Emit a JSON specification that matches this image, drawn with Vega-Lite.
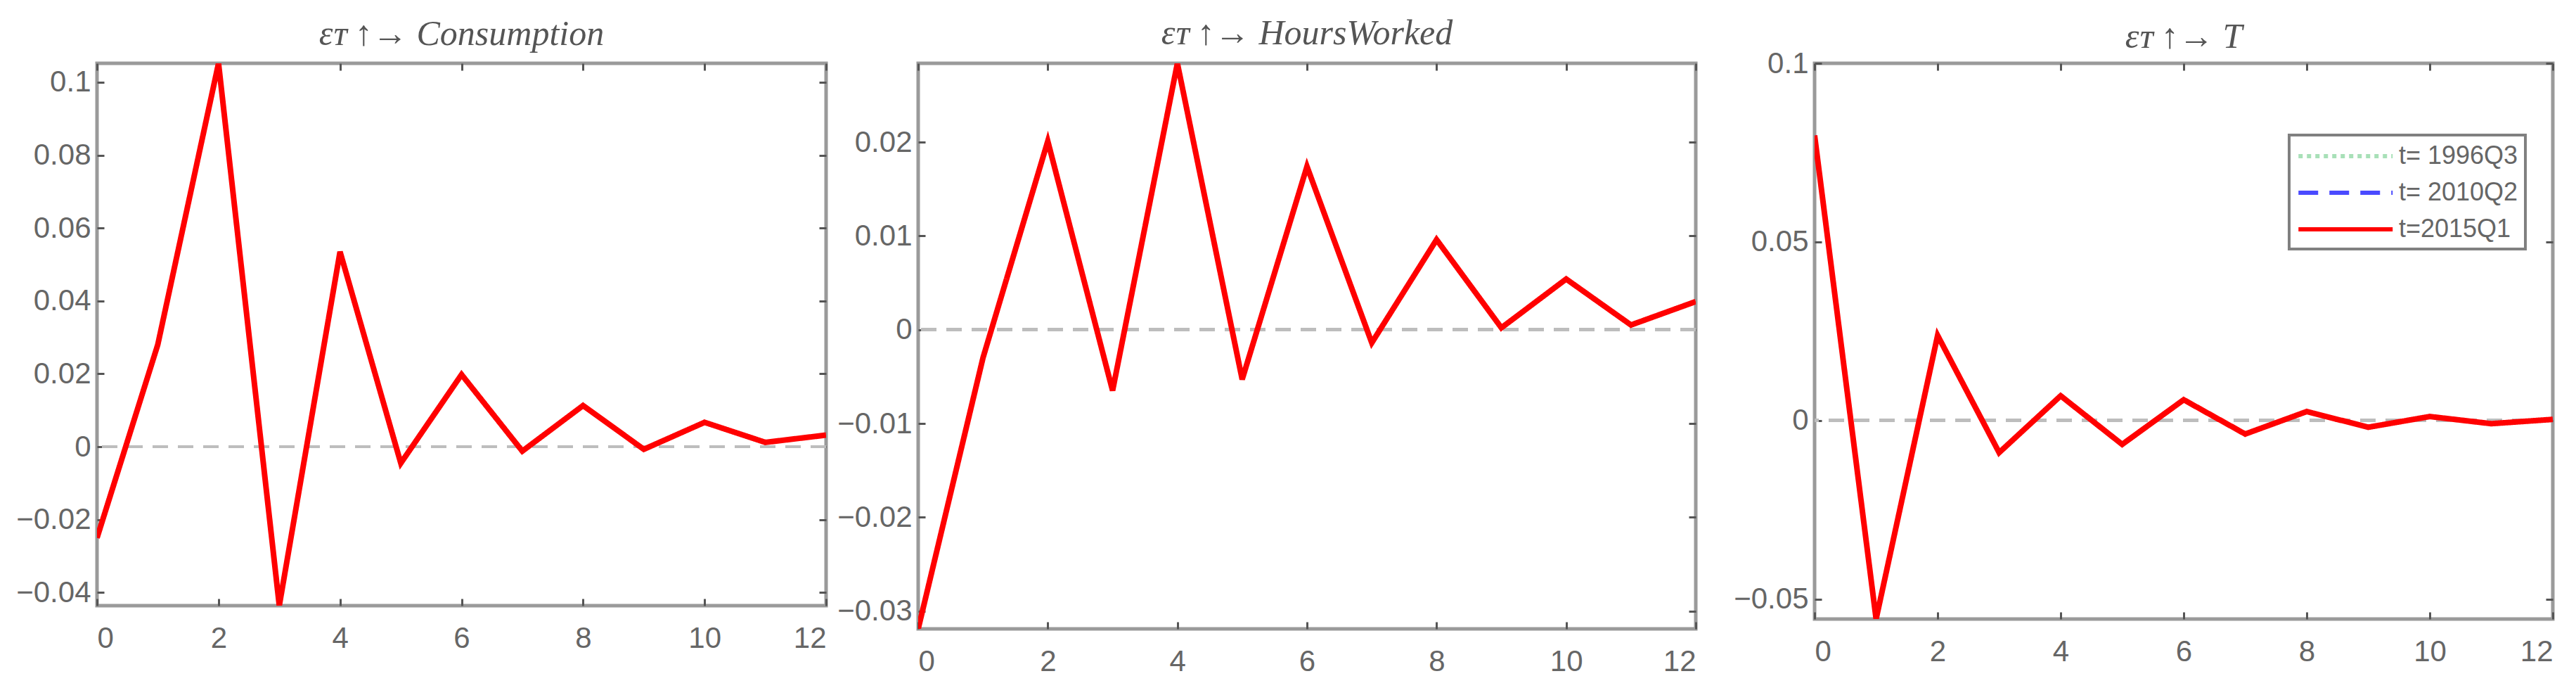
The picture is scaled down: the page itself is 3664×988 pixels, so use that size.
{
  "$schema": "https://vega.github.io/schema/vega-lite/v6.json",
  "background": "white",
  "padding": {"left": 20, "top": 20, "right": 0, "bottom": 0},
  "datasets": {
    "c": [
      {"t": 0, "t= 1996Q3": -0.025, "t= 2010Q2": -0.025, "t=2015Q1": -0.025},
      {"t": 1, "t= 1996Q3": 0.028, "t= 2010Q2": 0.028, "t=2015Q1": 0.028},
      {"t": 2, "t= 1996Q3": 0.1052, "t= 2010Q2": 0.1052, "t=2015Q1": 0.1052},
      {"t": 3, "t= 1996Q3": -0.0436, "t= 2010Q2": -0.0436, "t=2015Q1": -0.0436},
      {"t": 4, "t= 1996Q3": 0.0535, "t= 2010Q2": 0.0535, "t=2015Q1": 0.0535},
      {"t": 5, "t= 1996Q3": -0.0045, "t= 2010Q2": -0.0045, "t=2015Q1": -0.0045},
      {"t": 6, "t= 1996Q3": 0.0198, "t= 2010Q2": 0.0198, "t=2015Q1": 0.0198},
      {"t": 7, "t= 1996Q3": -0.0012, "t= 2010Q2": -0.0012, "t=2015Q1": -0.0012},
      {"t": 8, "t= 1996Q3": 0.0113, "t= 2010Q2": 0.0113, "t=2015Q1": 0.0113},
      {"t": 9, "t= 1996Q3": -0.0007, "t= 2010Q2": -0.0007, "t=2015Q1": -0.0007},
      {"t": 10, "t= 1996Q3": 0.0067, "t= 2010Q2": 0.0067, "t=2015Q1": 0.0067},
      {"t": 11, "t= 1996Q3": 0.0012, "t= 2010Q2": 0.0012, "t=2015Q1": 0.0012},
      {"t": 12, "t= 1996Q3": 0.0032, "t= 2010Q2": 0.0032, "t=2015Q1": 0.0032}
    ],
    "h": [
      {"t": 0, "t= 1996Q3": -0.0319, "t= 2010Q2": -0.0319, "t=2015Q1": -0.0319},
      {"t": 1, "t= 1996Q3": -0.003, "t= 2010Q2": -0.003, "t=2015Q1": -0.003},
      {"t": 2, "t= 1996Q3": 0.0201, "t= 2010Q2": 0.0201, "t=2015Q1": 0.0201},
      {"t": 3, "t= 1996Q3": -0.0065, "t= 2010Q2": -0.0065, "t=2015Q1": -0.0065},
      {"t": 4, "t= 1996Q3": 0.0284, "t= 2010Q2": 0.0284, "t=2015Q1": 0.0284},
      {"t": 5, "t= 1996Q3": -0.0053, "t= 2010Q2": -0.0053, "t=2015Q1": -0.0053},
      {"t": 6, "t= 1996Q3": 0.0174, "t= 2010Q2": 0.0174, "t=2015Q1": 0.0174},
      {"t": 7, "t= 1996Q3": -0.0014, "t= 2010Q2": -0.0014, "t=2015Q1": -0.0014},
      {"t": 8, "t= 1996Q3": 0.0096, "t= 2010Q2": 0.0096, "t=2015Q1": 0.0096},
      {"t": 9, "t= 1996Q3": 0.0002, "t= 2010Q2": 0.0002, "t=2015Q1": 0.0002},
      {"t": 10, "t= 1996Q3": 0.0054, "t= 2010Q2": 0.0054, "t=2015Q1": 0.0054},
      {"t": 11, "t= 1996Q3": 0.0005, "t= 2010Q2": 0.0005, "t=2015Q1": 0.0005},
      {"t": 12, "t= 1996Q3": 0.003, "t= 2010Q2": 0.003, "t=2015Q1": 0.003}
    ],
    "T": [
      {"t": 0, "t= 1996Q3": 0.0798, "t= 2010Q2": 0.0798, "t=2015Q1": 0.0798},
      {"t": 1, "t= 1996Q3": -0.0556, "t= 2010Q2": -0.0556, "t=2015Q1": -0.0556},
      {"t": 2, "t= 1996Q3": 0.0238, "t= 2010Q2": 0.0238, "t=2015Q1": 0.0238},
      {"t": 3, "t= 1996Q3": -0.009, "t= 2010Q2": -0.009, "t=2015Q1": -0.009},
      {"t": 4, "t= 1996Q3": 0.0069, "t= 2010Q2": 0.0069, "t=2015Q1": 0.0069},
      {"t": 5, "t= 1996Q3": -0.0067, "t= 2010Q2": -0.0067, "t=2015Q1": -0.0067},
      {"t": 6, "t= 1996Q3": 0.0058, "t= 2010Q2": 0.0058, "t=2015Q1": 0.0058},
      {"t": 7, "t= 1996Q3": -0.0038, "t= 2010Q2": -0.0038, "t=2015Q1": -0.0038},
      {"t": 8, "t= 1996Q3": 0.0025, "t= 2010Q2": 0.0025, "t=2015Q1": 0.0025},
      {"t": 9, "t= 1996Q3": -0.0019, "t= 2010Q2": -0.0019, "t=2015Q1": -0.0019},
      {"t": 10, "t= 1996Q3": 0.0011, "t= 2010Q2": 0.0011, "t=2015Q1": 0.0011},
      {"t": 11, "t= 1996Q3": -0.0009, "t= 2010Q2": -0.0009, "t=2015Q1": -0.0009},
      {"t": 12, "t= 1996Q3": 0.0003, "t= 2010Q2": 0.0003, "t=2015Q1": 0.0003}
    ]
  },
  "spacing": 46,
  "resolve": {
    "scale": {"color": "independent", "strokeDash": "independent"},
    "legend": {"color": "independent", "strokeDash": "independent"}
  },
  "hconcat": [
    {
      "spacing": 8,
      "resolve": {
        "scale": {"color": "independent", "strokeDash": "independent"},
        "legend": {"color": "independent", "strokeDash": "independent"}
      },
      "hconcat": [
        {
          "width": 1037,
          "height": 771,
          "data": {"name": "c"},
          "transform": [{"fold": ["t= 1996Q3", "t= 2010Q2", "t=2015Q1"], "as": ["s", "v"]}],
          "title": {"text": "εᴛ ↑→  Consumption", "offset": 15},
          "resolve": {"axis": {"x": "independent", "y": "independent"}},
          "layer": [
            {
              "mark": {"type": "rule", "strokeDash": [22, 14], "color": "#bdbdbd", "strokeWidth": 4},
              "encoding": {"y": {"datum": 0, "type": "quantitative", "axis": null}}
            },
            {
              "transform": [{"filter": "datum.s != 't=2015Q1'"}],
              "mark": {"type": "line", "clip": true, "strokeWidth": 4},
              "encoding": {
                "x": {"field": "t", "type": "quantitative", "scale": {"domain": [0, 12], "nice": false}, "axis": {"values": [0, 2, 4, 6, 8, 10, 12], "orient": "bottom"}},
                "y": {"field": "v", "type": "quantitative", "scale": {"domain": [-0.0436, 0.1052], "nice": false, "zero": false}, "axis": {"values": [-0.04, -0.02, 0, 0.02, 0.04, 0.06, 0.08, 0.1], "orient": "left", "format": "~g"}},
                "color": {"field": "s", "type": "nominal", "scale": {"domain": ["t= 1996Q3", "t= 2010Q2", "t=2015Q1"], "range": ["#a8e0b8", "#4a4aff", "#ff0000"]}, "legend": null},
                "strokeDash": {"field": "s", "type": "nominal", "scale": {"domain": ["t= 1996Q3", "t= 2010Q2", "t=2015Q1"], "range": [[6, 6], [28, 16], [1, 0]]}, "legend": null}
              }
            },
            {
              "transform": [{"filter": "datum.s == 't=2015Q1'"}],
              "mark": {"type": "line", "clip": true, "strokeWidth": 8},
              "encoding": {
                "x": {"field": "t", "type": "quantitative", "axis": null},
                "y": {"field": "v", "type": "quantitative", "axis": null},
                "color": {"field": "s", "type": "nominal", "legend": null},
                "strokeDash": {"field": "s", "type": "nominal", "legend": null}
              }
            },
            {
              "mark": {"type": "line", "opacity": 0},
              "encoding": {
                "x": {"field": "t", "type": "quantitative", "axis": {"values": [0, 2, 4, 6, 8, 10, 12], "orient": "top", "labels": false}},
                "y": {"field": "v", "type": "quantitative", "axis": {"values": [-0.04, -0.02, 0, 0.02, 0.04, 0.06, 0.08, 0.1], "orient": "right", "labels": false}}
              }
            }
          ]
        },
        {
          "width": 1106,
          "height": 804,
          "data": {"name": "h"},
          "transform": [{"fold": ["t= 1996Q3", "t= 2010Q2", "t=2015Q1"], "as": ["s", "v"]}],
          "title": {"text": "εᴛ ↑→  HoursWorked", "offset": 16},
          "resolve": {"axis": {"x": "independent", "y": "independent"}},
          "layer": [
            {
              "mark": {"type": "rule", "strokeDash": [22, 14], "color": "#bdbdbd", "strokeWidth": 4},
              "encoding": {"y": {"datum": 0, "type": "quantitative", "axis": null}}
            },
            {
              "transform": [{"filter": "datum.s != 't=2015Q1'"}],
              "mark": {"type": "line", "clip": true, "strokeWidth": 4},
              "encoding": {
                "x": {"field": "t", "type": "quantitative", "scale": {"domain": [0, 12], "nice": false}, "axis": {"values": [0, 2, 4, 6, 8, 10, 12], "orient": "bottom"}},
                "y": {"field": "v", "type": "quantitative", "scale": {"domain": [-0.0319, 0.0284], "nice": false, "zero": false}, "axis": {"values": [-0.03, -0.02, -0.01, 0, 0.01, 0.02], "orient": "left", "format": "~g"}},
                "color": {"field": "s", "type": "nominal", "scale": {"domain": ["t= 1996Q3", "t= 2010Q2", "t=2015Q1"], "range": ["#a8e0b8", "#4a4aff", "#ff0000"]}, "legend": null},
                "strokeDash": {"field": "s", "type": "nominal", "scale": {"domain": ["t= 1996Q3", "t= 2010Q2", "t=2015Q1"], "range": [[6, 6], [28, 16], [1, 0]]}, "legend": null}
              }
            },
            {
              "transform": [{"filter": "datum.s == 't=2015Q1'"}],
              "mark": {"type": "line", "clip": true, "strokeWidth": 8},
              "encoding": {
                "x": {"field": "t", "type": "quantitative", "axis": null},
                "y": {"field": "v", "type": "quantitative", "axis": null},
                "color": {"field": "s", "type": "nominal", "legend": null},
                "strokeDash": {"field": "s", "type": "nominal", "legend": null}
              }
            },
            {
              "mark": {"type": "line", "opacity": 0},
              "encoding": {
                "x": {"field": "t", "type": "quantitative", "axis": {"values": [0, 2, 4, 6, 8, 10, 12], "orient": "top", "labels": false}},
                "y": {"field": "v", "type": "quantitative", "axis": {"values": [-0.03, -0.02, -0.01, 0, 0.01, 0.02], "orient": "right", "labels": false}}
              }
            }
          ]
        }
      ]
    },
    {
      "width": 1050,
      "height": 790,
      "data": {"name": "T"},
      "transform": [{"fold": ["t= 1996Q3", "t= 2010Q2", "t=2015Q1"], "as": ["s", "v"]}],
      "title": {"text": "εᴛ ↑→ T", "offset": -9},
      "resolve": {"axis": {"x": "independent", "y": "independent"}},
      "layer": [
        {
          "mark": {"type": "rule", "strokeDash": [22, 14], "color": "#bdbdbd", "strokeWidth": 4},
          "encoding": {"y": {"datum": 0, "type": "quantitative", "axis": null}}
        },
        {
          "mark": {"type": "line", "opacity": 0},
          "encoding": {
            "x": {"field": "t", "type": "quantitative", "axis": {"values": [0, 2, 4, 6, 8, 10, 12], "orient": "top", "labels": false}},
            "y": {"field": "v", "type": "quantitative", "axis": {"values": [-0.05, 0, 0.05, 0.1], "orient": "right", "labels": false}}
          }
        },
        {
          "transform": [{"filter": "datum.s != 't=2015Q1'"}],
          "mark": {"type": "line", "clip": true, "strokeWidth": 4},
          "encoding": {
            "x": {"field": "t", "type": "quantitative", "scale": {"domain": [0, 12], "nice": false}, "axis": {"values": [0, 2, 4, 6, 8, 10, 12], "orient": "bottom"}},
            "y": {"field": "v", "type": "quantitative", "scale": {"domain": [-0.0556, 0.1], "nice": false, "zero": false}, "axis": {"values": [-0.05, 0, 0.05, 0.1], "orient": "left", "format": "~g"}},
            "color": {"field": "s", "type": "nominal", "scale": {"domain": ["t= 1996Q3", "t= 2010Q2", "t=2015Q1"], "range": ["#a8e0b8", "#4a4aff", "#ff0000"]},
              "legend": {"orient": "none", "legendX": 675, "legendY": 102, "title": null, "symbolType": "M-1,0H7", "symbolSize": 1122, "symbolStrokeWidth": 6, "labelOffset": 106, "labelLimit": 0, "rowPadding": 14, "padding": 10}},
            "strokeDash": {"field": "s", "type": "nominal", "scale": {"domain": ["t= 1996Q3", "t= 2010Q2", "t=2015Q1"], "range": [[6, 6], [28, 16], [1, 0]]},
              "legend": {"orient": "none", "legendX": 675, "legendY": 102, "title": null, "symbolType": "M-1,0H7", "symbolSize": 1122, "symbolStrokeWidth": 6, "labelOffset": 106, "labelLimit": 0, "rowPadding": 14, "padding": 10}}
          }
        },
        {
          "transform": [{"filter": "datum.s == 't=2015Q1'"}],
          "mark": {"type": "line", "clip": true, "strokeWidth": 8},
          "encoding": {
            "x": {"field": "t", "type": "quantitative", "axis": null},
            "y": {"field": "v", "type": "quantitative", "axis": null},
            "color": {"field": "s", "type": "nominal"},
            "strokeDash": {"field": "s", "type": "nominal"}
          }
        }
      ]
    }
  ],
  "config": {
    "view": {"stroke": "#9a9a9a", "strokeWidth": 5},
    "title": {"font": "Liberation Serif", "fontStyle": "italic", "fontWeight": "normal", "fontSize": 50, "color": "#555555", "anchor": "middle"},
    "axis": {
      "domain": false,
      "grid": false,
      "title": null,
      "ticks": true,
      "tickSize": -10,
      "tickWidth": 3,
      "tickColor": "#555555",
      "labelFont": "Liberation Sans Narrow, Liberation Sans, sans-serif",
      "labelFontSize": 42,
      "labelColor": "#666666"
    },
    "axisX": {"labelPadding": 36},
    "axisY": {"labelPadding": 19},
    "legend": {
      "strokeColor": "#808080",
      "strokeWidth": 4,
      "fillColor": "white",
      "labelFont": "Liberation Sans Narrow, Liberation Sans, sans-serif",
      "labelFontSize": 36,
      "labelColor": "#666666"
    }
  }
}
